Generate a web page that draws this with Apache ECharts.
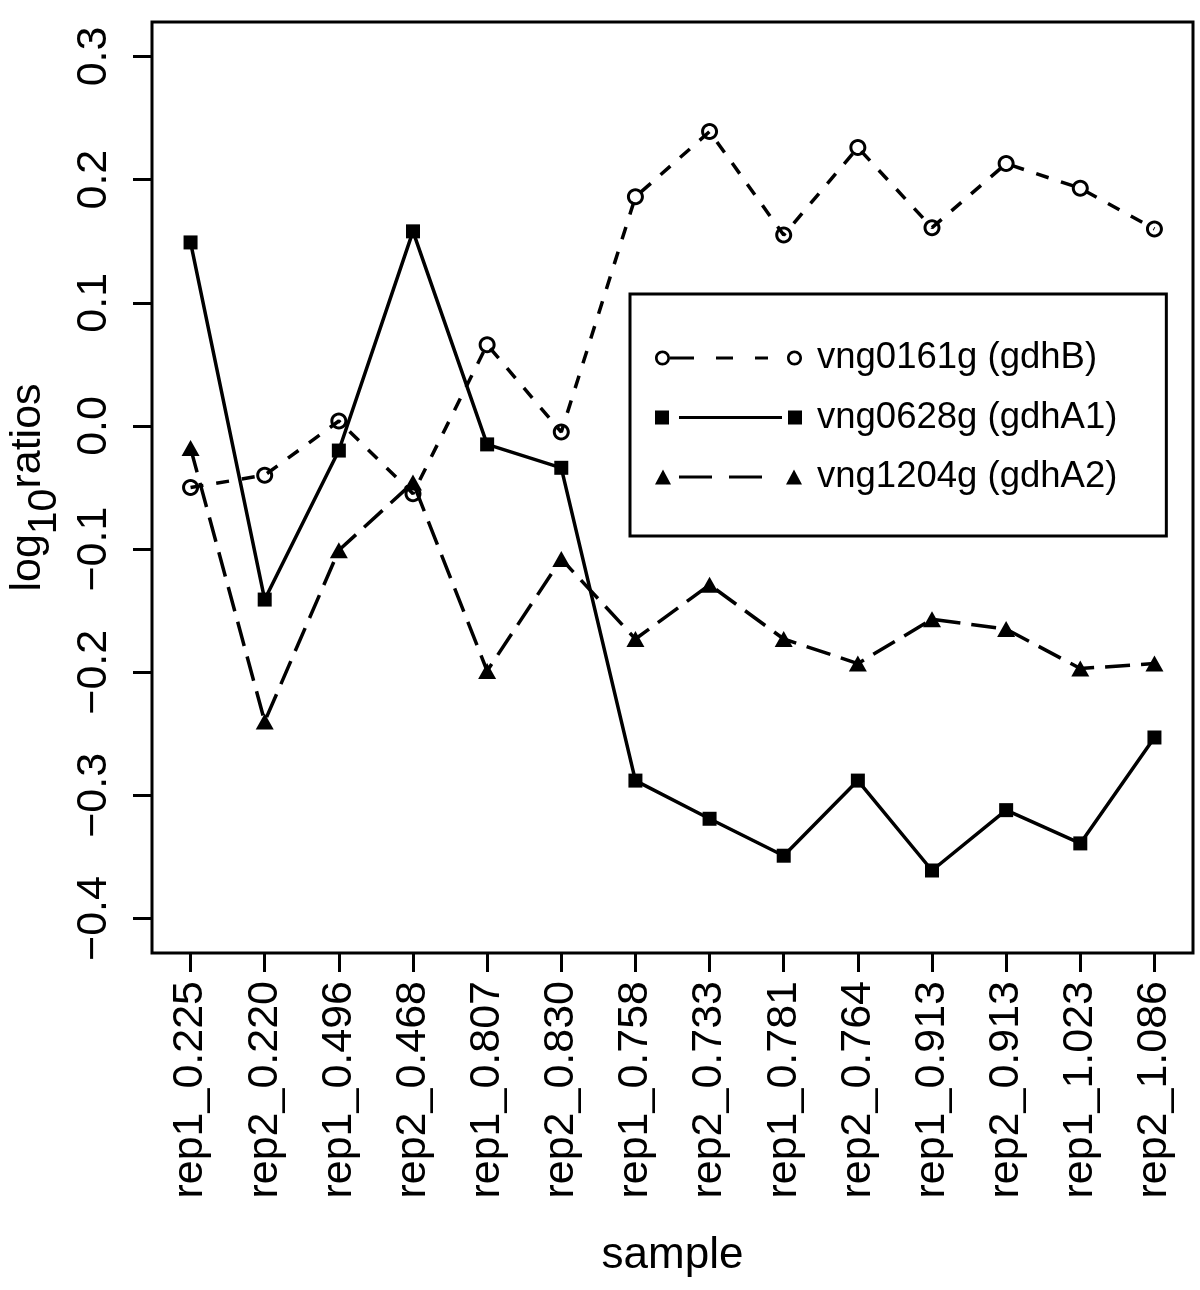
<!DOCTYPE html>
<html>
<head>
<meta charset="utf-8">
<script src="https://cdn.jsdelivr.net/npm/echarts@6/dist/echarts.min.js"></script>
<style>
html,body{margin:0;padding:0;background:#fff;}
#chart{width:1200px;height:1290px;}
</style>
</head>
<body>
<div id="chart"></div>
<script>
// ---- data ----
var categories = ['rep1_0.225','rep2_0.220','rep1_0.496','rep2_0.468','rep1_0.807','rep2_0.830','rep1_0.758','rep2_0.733','rep1_0.781','rep2_0.764','rep1_0.913','rep2_0.913','rep1_1.023','rep2_1.086'];
var seriesNames = ['vng0161g (gdhB)','vng0628g (gdhA1)','vng1204g (gdhA2)'];
var gdhB  = [-0.050, -0.040, 0.004, -0.055, 0.066, -0.005, 0.186, 0.239, 0.155, 0.226, 0.161, 0.213, 0.193, 0.160];
var gdhA1 = [0.149, -0.141, -0.020, 0.158, -0.015, -0.034, -0.288, -0.319, -0.349, -0.288, -0.361, -0.312, -0.339, -0.253];
var gdhA2 = [-0.018, -0.240, -0.101, -0.046, -0.199, -0.108, -0.173, -0.129, -0.173, -0.193, -0.157, -0.165, -0.197, -0.193];
var yTicks = [-0.4, -0.3, -0.2, -0.1, 0.0, 0.1, 0.2, 0.3];
var xTitle = 'sample';

// ---- helpers ----
var FONT = '"Liberation Sans", Arial, Helvetica, sans-serif';
var xPos = categories.map(function (c, i) { return i + 1; });
function pairs(vals) { return vals.map(function (v, i) { return [xPos[i], v]; }); }
function fmtY(v) { var s = v.toFixed(1); return s.charAt(0) === '-' ? '\u2212' + s.slice(1) : s; }

// ring (open circle) built from cubic curves: outer clockwise, inner counter-clockwise
function ring(cx, cy, R, r) {
  var k = 0.5523, K = R * k, q = r * k;
  function f(n) { return (Math.round(n * 1000) / 1000).toString(); }
  var o = 'M' + f(cx + R) + ',' + f(cy) +
    ' C' + f(cx + R) + ',' + f(cy + K) + ' ' + f(cx + K) + ',' + f(cy + R) + ' ' + f(cx) + ',' + f(cy + R) +
    ' C' + f(cx - K) + ',' + f(cy + R) + ' ' + f(cx - R) + ',' + f(cy + K) + ' ' + f(cx - R) + ',' + f(cy) +
    ' C' + f(cx - R) + ',' + f(cy - K) + ' ' + f(cx - K) + ',' + f(cy - R) + ' ' + f(cx) + ',' + f(cy - R) +
    ' C' + f(cx + K) + ',' + f(cy - R) + ' ' + f(cx + R) + ',' + f(cy - K) + ' ' + f(cx + R) + ',' + f(cy) + ' Z';
  var i = ' M' + f(cx + r) + ',' + f(cy) +
    ' C' + f(cx + r) + ',' + f(cy - q) + ' ' + f(cx + q) + ',' + f(cy - r) + ' ' + f(cx) + ',' + f(cy - r) +
    ' C' + f(cx - q) + ',' + f(cy - r) + ' ' + f(cx - r) + ',' + f(cy - q) + ' ' + f(cx - r) + ',' + f(cy) +
    ' C' + f(cx - r) + ',' + f(cy + q) + ' ' + f(cx - q) + ',' + f(cy + r) + ' ' + f(cx) + ',' + f(cy + r) +
    ' C' + f(cx + q) + ',' + f(cy + r) + ' ' + f(cx + r) + ',' + f(cy + q) + ' ' + f(cx + r) + ',' + f(cy) + ' Z';
  return o + i;
}

var ringSym = 'path://' + ring(8.5, 8.5, 8.5, 5.5);
var legB = 'path://' + ring(7.5, 7.5, 7.5, 4.8) +
  ' M15,6 H39 V9 H15 Z M61,6 H78 V9 H61 Z M100,6 H113 V9 H100 Z ' + ring(139.5, 7.5, 7.5, 4.8);
var legA1 = 'path://M0,0.5 H14 V14.5 H0 Z M24,6 H127 V9 H24 Z M133,0.5 H147 V14.5 H133 Z M0,0 H0.01 V15 H0 Z';
var legA2 = 'path://M0,15 L8,0 L16,15 Z M24,6 H57 V9 H24 Z M74,6 H107 V9 H74 Z M131,15 L139,0 L147,15 Z';

var chart = echarts.init(document.getElementById('chart'), null, {renderer: 'canvas'});
var option = {
  backgroundColor: '#fff',
  animation: false,
  textStyle: {fontFamily: FONT, color: '#000'},
  grid: {
    left: 152, right: 7, top: 22, bottom: 337,
    show: true, borderColor: '#000', borderWidth: 3,
    containLabel: false, outerBoundsMode: 'none'
  },
  legend: {
    orient: 'vertical',
    left: 630, top: 294,
    padding: [44, 49, 39, 25],
    itemGap: 19.5,
    itemWidth: 147, itemHeight: 15,
    borderColor: '#000', borderWidth: 3, backgroundColor: '#fff',
    selectedMode: false,
    itemStyle: {borderWidth: 0},
    textStyle: {fontFamily: FONT, fontSize: 36.5, color: '#000', lineHeight: 40, padding: [0, 0, 0, 10]},
    data: [
      {name: seriesNames[0], icon: legB, itemStyle: {color: '#000', borderWidth: 0}},
      {name: seriesNames[1], icon: legA1, itemStyle: {color: '#000', borderWidth: 0}},
      {name: seriesNames[2], icon: legA2, itemStyle: {color: '#000', borderWidth: 0}}
    ]
  },
  xAxis: {
    type: 'value',
    min: 0.48, max: 14.52,
    splitLine: {show: false},
    axisLine: {show: false, onZero: false},
    axisTick: {show: true, length: 19, inside: false, customValues: xPos, lineStyle: {color: '#000', width: 3}},
    axisLabel: {
      show: true, rotate: 90, margin: 28, customValues: xPos,
      fontFamily: FONT, fontSize: 43, color: '#000',
      formatter: function (v) { return categories[Math.round(v) - 1] || ''; }
    },
    name: xTitle,
    nameLocation: 'middle',
    nameGap: 281,
    nameTextStyle: {fontFamily: FONT, fontSize: 44, color: '#000'}
  },
  yAxis: {
    type: 'value',
    min: -0.428, max: 0.328,
    splitLine: {show: false},
    axisLine: {show: false, onZero: false},
    axisTick: {show: true, length: 19, inside: false, customValues: yTicks, lineStyle: {color: '#000', width: 3}},
    axisLabel: {
      show: true, rotate: 90, margin: 36, customValues: yTicks,
      fontFamily: FONT, fontSize: 43, color: '#000',
      formatter: function (v) { return fmtY(v); }
    },
    name: '{a|log}{b|10}{a|ratios}',
    nameLocation: 'middle',
    nameGap: 94,
    nameTextStyle: {
      rich: {
        a: {fontFamily: FONT, fontSize: 43, color: '#000', lineHeight: 43, verticalAlign: 'top'},
        b: {fontFamily: FONT, fontSize: 41, color: '#000', lineHeight: 41, verticalAlign: 'top', padding: [17, 0, 0, 0]}
      }
    }
  },
  series: [
    {
      name: seriesNames[0], type: 'line', data: pairs(gdhB),
      symbol: ringSym, symbolSize: 17,
      itemStyle: {color: '#000', borderWidth: 0},
      lineStyle: {color: '#000', width: 3.5, type: [13, 13]},
      z: 3
    },
    {
      name: seriesNames[1], type: 'line', data: pairs(gdhA1),
      symbol: 'rect', symbolSize: 14,
      itemStyle: {color: '#000', borderWidth: 0},
      lineStyle: {color: '#000', width: 3.5, type: 'solid'},
      z: 3
    },
    {
      name: seriesNames[2], type: 'line', data: pairs(gdhA2),
      symbol: 'triangle', symbolSize: [18, 16],
      itemStyle: {color: '#000', borderWidth: 0},
      lineStyle: {color: '#000', width: 3.5, type: [25, 11]},
      z: 3
    }
  ]
};
chart.setOption(option);
</script>
</body>
</html>
